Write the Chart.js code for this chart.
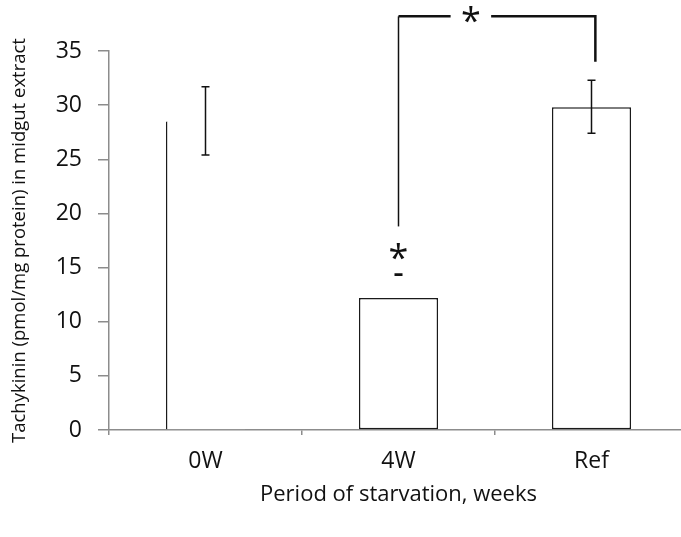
<!DOCTYPE html>
<html>
<head>
<meta charset="utf-8">
<script src="https://cdn.jsdelivr.net/npm/chart.js@4.4.1/dist/chart.umd.min.js"></script>
<style>
  html, body { margin: 0; padding: 0; background: #fff; overflow: hidden; }
  #wrap { width: 688px; height: 537px; }
</style>
</head>
<body>
<div id="wrap"><canvas id="myChart" width="688" height="537"></canvas></div>
<script>
const categories = ['0W', '4W', 'Ref'];
const means = [28.5, 12.2, 29.8];
const errLow = [25.4, 14.3, 27.4];
const errHigh = [31.7, 14.4, 32.3];
const yTicks = [0, 5, 10, 15, 20, 25, 30, 35];

// significance marks: star above 4W, bracket 4W -> Ref
const starAbove = { x: 1, y: 16.0 };
const bracketX = [1, 2.02];
const bracketY = [18.8, 38.2, 34.0]; // left foot, top, right foot
const bracketStarX = 1.375;
const bracketGap = [1.27, 1.48];

const FONT = '"Open Sans", "Noto Sans", sans-serif';

const annotations = {
   id: 'annotations',
   afterDatasetsDraw(chart) {
      const { ctx, scales: { x, y } } = chart;
      ctx.save();
      ctx.strokeStyle = '#111';
      ctx.fillStyle = '#111';

      // error bars
      ctx.lineWidth = 1.5;
      means.forEach((m, i) => {
         const px = x.getPixelForValue(i);
         const top = y.getPixelForValue(errHigh[i]);
         const bot = y.getPixelForValue(errLow[i]);
         ctx.beginPath();
         ctx.moveTo(px, top); ctx.lineTo(px, bot);
         ctx.moveTo(px - 4, top); ctx.lineTo(px + 4, top);
         ctx.moveTo(px - 4, bot); ctx.lineTo(px + 4, bot);
         ctx.stroke();
      });

      // bracket
      const xl = x.getPixelForValue(bracketX[0]);
      const xr = x.getPixelForValue(bracketX[1]);
      const yl = y.getPixelForValue(bracketY[0]);
      const yt = y.getPixelForValue(bracketY[1]);
      const yr = y.getPixelForValue(bracketY[2]);
      const g1 = x.getPixelForValue(bracketGap[0]);
      const g2 = x.getPixelForValue(bracketGap[1]);
      ctx.lineWidth = 1.5;
      ctx.beginPath();
      ctx.moveTo(xl, yl); ctx.lineTo(xl, yt);
      ctx.stroke();
      ctx.lineWidth = 2.5;
      ctx.beginPath();
      ctx.moveTo(xl, yt); ctx.lineTo(g1, yt);
      ctx.moveTo(g2, yt); ctx.lineTo(xr, yt); ctx.lineTo(xr, yr);
      ctx.stroke();

      // stars
      ctx.font = '36px ' + FONT;
      ctx.textAlign = 'center';
      ctx.textBaseline = 'middle';
      ctx.fillText('*', x.getPixelForValue(bracketStarX), yt + 6);
      ctx.fillText('*', x.getPixelForValue(starAbove.x), y.getPixelForValue(starAbove.y) + 3);
      ctx.restore();
   }
};

new Chart(document.getElementById('myChart'), {
   type: 'bar',
   data: {
      labels: categories,
      datasets: [{
         data: means,
         backgroundColor: '#fff',
         borderColor: '#1a1a1a',
         borderSkipped: false,
         // 0W bar only shows its left edge in the original
         borderWidth: function (context) {
            return context.dataIndex === 0
               ? { left: 1.5, top: 0, right: 0, bottom: 0 }
               : 1.5;
         },
         categoryPercentage: 1,
         barPercentage: 0.41
      }]
   },
   plugins: [annotations],
   options: {
      responsive: false,
      animation: false,
      layout: { padding: { top: 51, right: 0, bottom: 29, left: 0 } },
      plugins: {
         legend: { display: false },
         tooltip: { enabled: false }
      },
      scales: {
         x: {
            offset: true,
            grid: {
               offset: true,
               drawOnChartArea: false,
               tickLength: 5,
               color: '#8c8c8c',
               lineWidth: 1.5
            },
            border: { color: '#8c8c8c', width: 1.5 },
            ticks: {
               color: '#111',
               padding: 13,
               font: { family: FONT, size: 23 }
            },
            title: {
               display: true,
               text: 'Period of starvation, weeks',
               color: '#111',
               padding: { top: -7, bottom: 0 },
               font: { family: FONT, size: 22 }
            }
         },
         y: {
            min: 0,
            max: 35,
            afterFit(scale) { scale.width = 109; },
            afterBuildTicks(scale) { scale.ticks = yTicks.map(v => ({ value: v })); },
            grid: {
               drawOnChartArea: false,
               tickLength: 11,
               color: '#8c8c8c',
               lineWidth: 1.5
            },
            border: { color: '#8c8c8c', width: 1.5 },
            ticks: {
               color: '#111',
               padding: 16,
               font: { family: FONT, size: 23 }
            },
            title: {
               display: true,
               text: 'Tachykinin (pmol/mg protein) in midgut extract',
               color: '#111',
               padding: { top: 9, bottom: 0 },
               font: { family: FONT, size: 18.5 }
            }
         }
      }
   }
});
</script>
</body>
</html>
